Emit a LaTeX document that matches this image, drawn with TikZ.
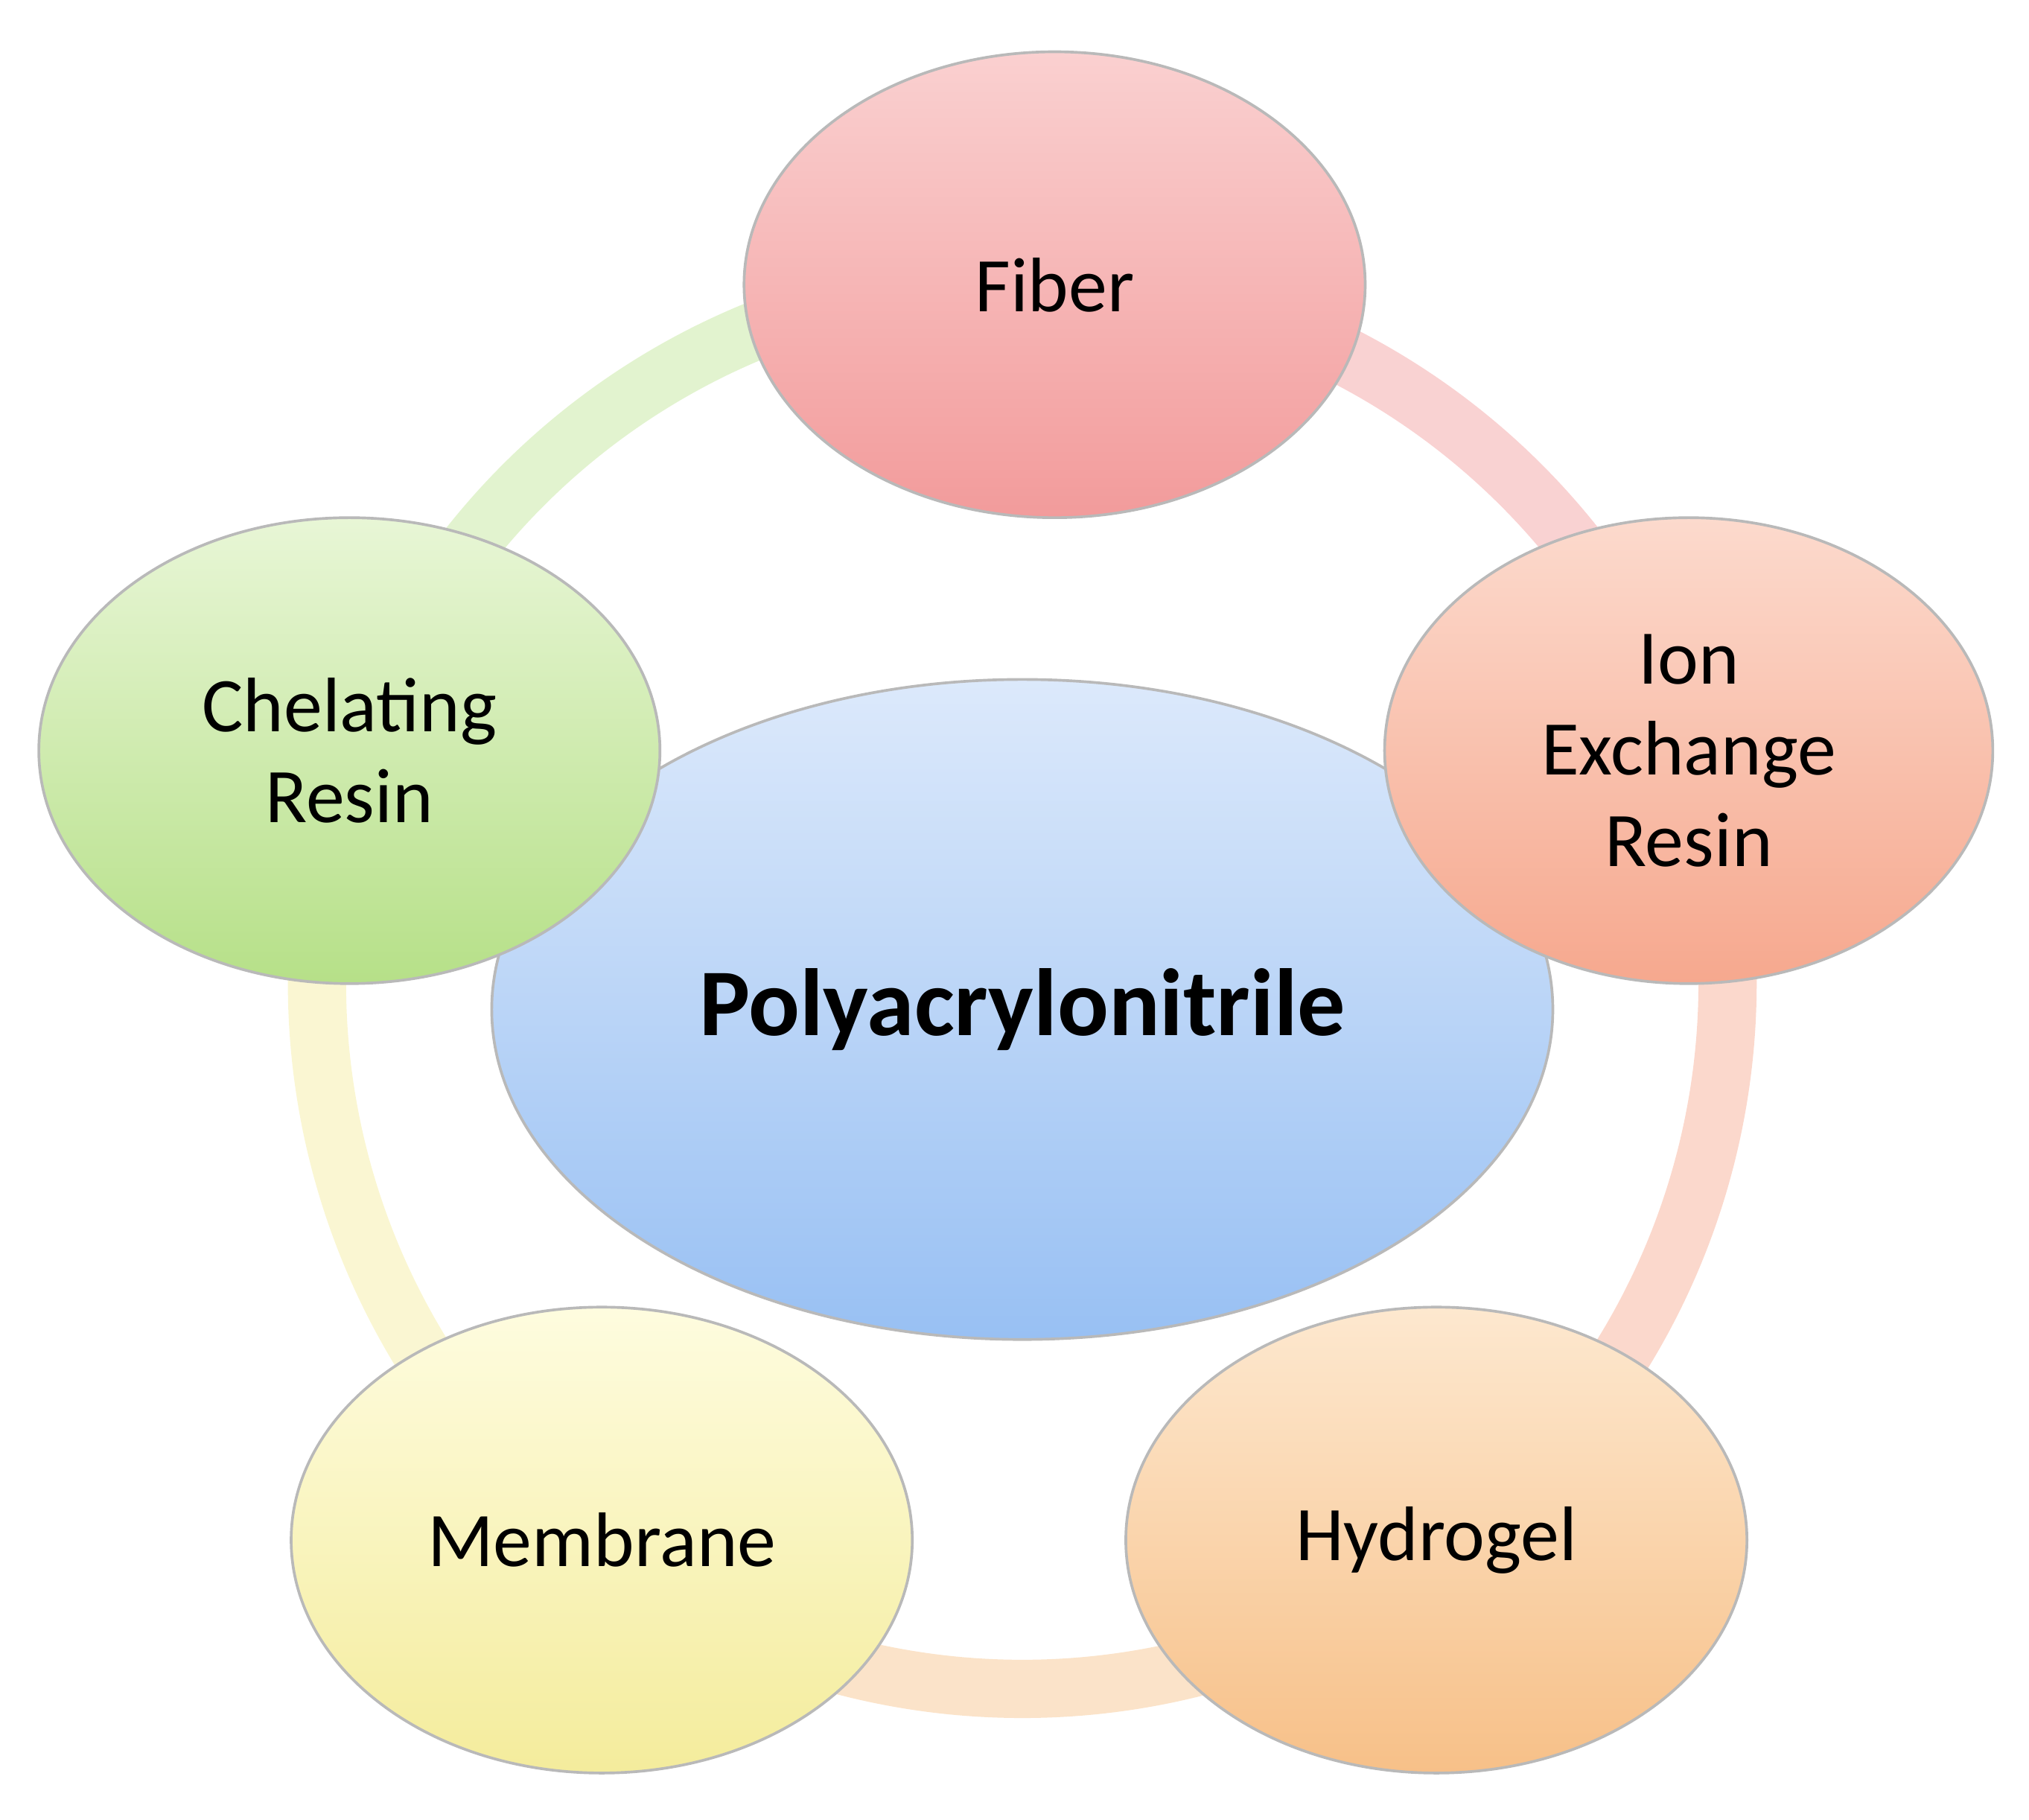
\documentclass[tikz,border=0pt]{standalone}
\usepackage{fontspec}
\setmainfont{Carlito}
\usetikzlibrary{shapes.geometric}
\definecolor{fibTop}{HTML}{FAD0D0}\definecolor{fibBot}{HTML}{F29B9B}
\definecolor{ionTop}{HTML}{FCDACD}\definecolor{ionBot}{HTML}{F6A88E}
\definecolor{hydTop}{HTML}{FDE8CF}\definecolor{hydBot}{HTML}{F7C088}
\definecolor{memTop}{HTML}{FEFCDF}\definecolor{memBot}{HTML}{F4EC9C}
\definecolor{chlTop}{HTML}{E8F6D6}\definecolor{chlBot}{HTML}{B6E088}
\definecolor{panTop}{HTML}{DCE9FB}\definecolor{panBot}{HTML}{98C0F3}
\tikzset{
  bubble/.style={draw=gray!55, line width=0.6pt, ellipse, minimum width=4.8cm, minimum height=3.6cm, align=center, font=\fontsize{17}{20}\selectfont},
  ring/.style={line width=0.45cm}
}
\begin{document}
\begin{tikzpicture}
  \useasboundingbox (0,0) rectangle (15.68,-14.06);
  \coordinate (ringc) at (7.9,-7.6);

  % ring segments
  \draw[ring, fibBot!45] (ringc) ++(87:5.45) arc(87:19:5.45);
  \draw[ring, ionBot!45] (ringc) ++(19:5.45) arc(19:-53:5.45);
  \draw[ring, hydBot!45] (ringc) ++(-53:5.45) arc(-53:-127:5.45);
  \draw[ring, memBot!45] (ringc) ++(-127:5.45) arc(-127:-199:5.45);
  \draw[ring, chlBot!40] (ringc) ++(161:5.45) arc(161:87:5.45);

  \node[bubble, top color=panTop, bottom color=panBot, minimum width=8.2cm, minimum height=5.1cm, font=\fontsize{21}{25}\selectfont\bfseries] (pan) at (7.9,-7.8) {Polyacrylonitrile};
  \node[bubble, top color=fibTop, bottom color=fibBot] (fiber) at (8.15,-2.2) {Fiber};
  \node[bubble, top color=ionTop, bottom color=ionBot, minimum width=4.7cm] (ion) at (13.05,-5.8) {Ion\\Exchange\\Resin};
  \node[bubble, top color=hydTop, bottom color=hydBot] (hydro) at (11.1,-11.9) {Hydrogel};
  \node[bubble, top color=memTop, bottom color=memBot] (membr) at (4.65,-11.9) {Membrane};
  \node[bubble, top color=chlTop, bottom color=chlBot] (chel) at (2.7,-5.8) {Chelating\\Resin};
\end{tikzpicture}
\end{document}
